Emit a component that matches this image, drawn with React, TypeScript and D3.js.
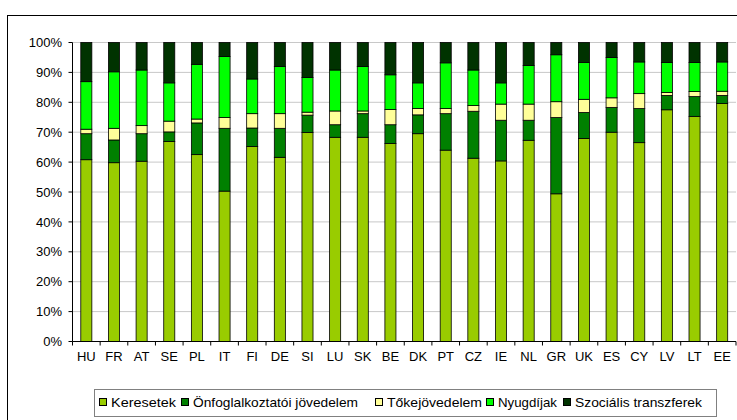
import React from "react";
import * as d3 from "d3";

const countries = ["HU","FR","AT","SE","PL","IT","FI","DE","SI","LU","SK","BE","DK","PT","CZ","IE","NL","GR","UK","ES","CY","LV","LT","EE"];
const keresetek = [60.8,59.8,60.3,66.9,62.5,50.3,65.2,61.6,69.9,68.3,68.3,66.2,69.5,64.0,61.3,60.4,67.3,49.4,67.9,70.0,66.5,77.5,75.3,79.6];
const onfoglalkoztatoi = [8.7,7.6,9.2,3.2,10.6,21.0,6.2,9.7,5.8,4.2,7.9,6.3,6.3,12.2,15.7,13.6,6.7,25.5,8.7,8.3,11.4,4.8,6.6,2.7];
const tokejovedelem = [1.5,3.9,2.7,3.6,1.3,3.6,4.8,4.9,1.0,4.6,0.9,5.1,2.1,1.7,1.9,5.4,5.4,5.3,4.4,3.2,5.0,1.0,1.7,1.4];
const nyugdijak = [15.9,18.9,18.6,12.8,18.3,20.4,11.6,15.8,11.6,13.7,14.9,11.6,8.6,15.3,11.9,7.1,12.9,15.7,12.3,13.5,10.6,10.0,9.7,9.8];
const szocialis = [13.1,9.8,9.2,13.5,7.3,4.7,12.2,8.0,11.7,9.2,8.0,10.8,13.5,6.8,9.2,13.5,7.7,4.1,6.7,5.0,6.5,6.7,6.7,6.5];
const seriesNames = ["Keresetek","Önfoglalkoztatói jövedelem","Tőkejövedelem","Nyugdíjak","Szociális transzferek"];
const seriesColors = ["#99CC00","#008000","#FFFF99","#00FF00","#003300"];
const yTicks = [0,10,20,30,40,50,60,70,80,90,100];

const W = 737, H = 420;
const left = 72.5, right = 736, top = 42.5, bottom = 341.5;

export default function App() {
  const keys = ["k","o","t","n","s"];
  const rows = countries.map((c, i) => ({
    c, k: keresetek[i], o: onfoglalkoztatoi[i], t: tokejovedelem[i], n: nyugdijak[i], s: szocialis[i],
  }));
  const stacked = d3.stack<any>().keys(keys).offset(d3.stackOffsetExpand)(rows);
  const x = d3.scaleBand().domain(countries).range([left, right]).paddingInner(0.6).paddingOuter(0.3);
  const xTicksScale = d3.scaleBand().domain(countries).range([left, right]).padding(0);
  const y = d3.scaleLinear().domain([0, 1]).range([bottom, top]);
  const yPct = d3.scaleLinear().domain([0, 100]).range([bottom, top]);

  const legendSwatchX = [99, 181, 375, 486, 563];
  const legendTextW = [65, 165, 95, 59, 127];

  return (
    <svg width={W} height={H} style={{ position: "absolute", left: 0, top: 0, fontFamily: "'Liberation Sans', Arial, sans-serif" }}>
      <rect x={0} y={0} width={W} height={H} fill="#fff" />
      <rect x={7.5} y={15.5} width={W + 10} height={H + 10} fill="none" stroke="#000" strokeWidth={1} />
      {yTicks.map((t) => (
        <g key={t}>
          {t > 0 && <line x1={left} x2={right} y1={yPct(t)} y2={yPct(t)} stroke="#c8c8c8" strokeWidth={1} />}
          <line x1={left - 4} x2={left} y1={yPct(t)} y2={yPct(t)} stroke="#000" />
          <text x={62} y={yPct(t)} dy="0.36em" textAnchor="end" fontSize={13} fill="#000">{t}%</text>
        </g>
      ))}
      {stacked.map((layer, si) => (
        <g key={si} fill={seriesColors[si]} stroke="#000" strokeWidth={0.8}>
          {layer.map((d: any, i: number) => (
            <rect key={i} x={x(countries[i])!} width={x.bandwidth()} y={y(d[1])} height={y(d[0]) - y(d[1])} />
          ))}
        </g>
      ))}
      <line x1={left} x2={left} y1={top} y2={bottom} stroke="#000" />
      <line x1={left} x2={right} y1={bottom} y2={bottom} stroke="#000" />
      {countries.map((c) => (
        <line key={"t" + c} x1={xTicksScale(c)!} x2={xTicksScale(c)!} y1={bottom} y2={bottom + 4} stroke="#000" />
      ))}
      <line x1={right} x2={right} y1={bottom} y2={bottom + 4} stroke="#000" />
      {countries.map((c) => (
        <text key={"l" + c} x={x(c)! + x.bandwidth() / 2} y={361} textAnchor="middle" fontSize={13} fill="#000">{c}</text>
      ))}
      <rect x={94.5} y={389.5} width={622} height={27} fill="#fff" stroke="#808080" strokeWidth={1} />
      {seriesNames.map((n, i) => (
        <g key={n}>
          <rect x={legendSwatchX[i] + 0.5} y={398.5} width={7} height={7} fill={seriesColors[i]} stroke="#000" strokeWidth={1} />
          <text x={legendSwatchX[i] + 12} y={407} fontSize={13.5} fill="#000" textLength={legendTextW[i]} lengthAdjust="spacingAndGlyphs">{n}</text>
        </g>
      ))}
    </svg>
  );
}
